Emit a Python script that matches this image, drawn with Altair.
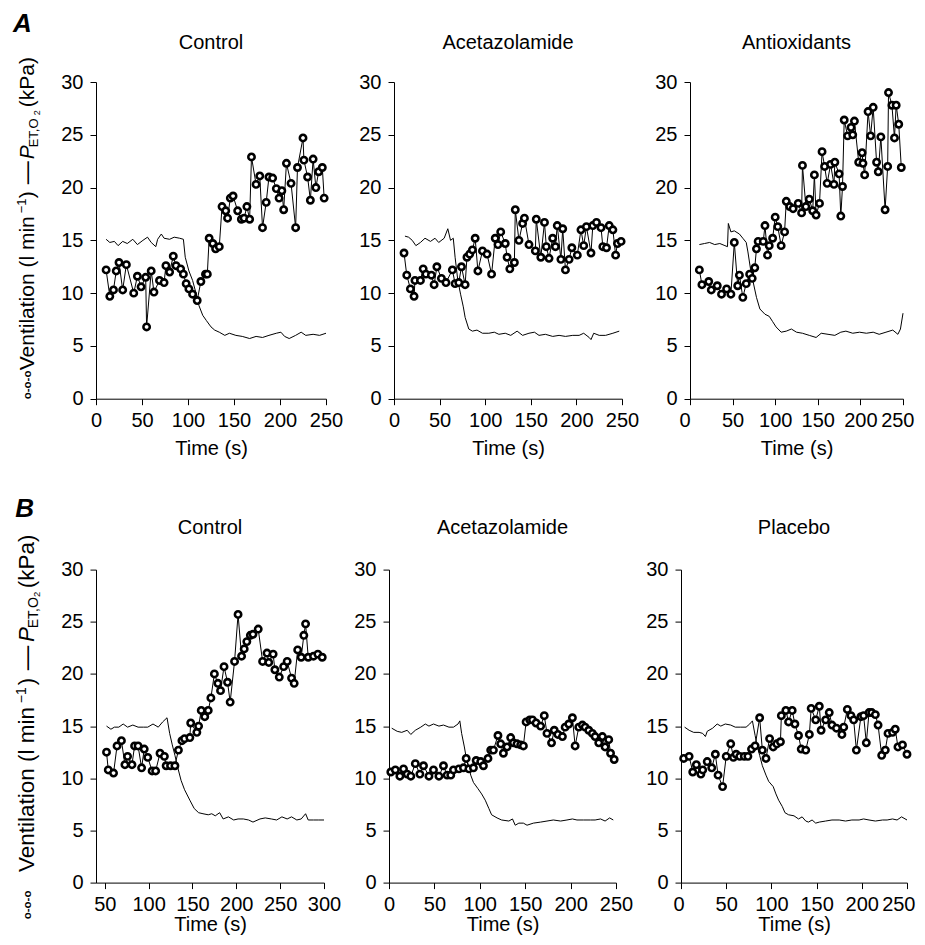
import altair as alt
import pandas as pd

FONT = "Liberation Sans"

# ---------------- Panel A: Control ----------------
a1_vent_t = [11, 15, 19, 22, 25, 29, 33, 41, 45, 49, 54, 55, 60, 63, 69, 74, 76, 80, 84, 87, 92, 95,
             98, 101, 105, 110, 114, 119, 121, 123, 127, 130, 134, 137, 141, 143, 146, 149, 154, 158,
             161, 164, 167, 169, 174, 178, 181, 185, 188, 192, 196, 199, 202, 204, 207, 212, 217, 219,
             225, 226, 230, 233, 236, 239, 242, 246, 248]
a1_vent_v = [12.2, 9.7, 10.3, 12.1, 12.9, 10.3, 12.7, 10.0, 11.6, 10.6, 11.5, 6.8, 12.1, 10.1, 11.2,
             11.0, 12.6, 12.0, 13.5, 12.6, 12.3, 11.8, 10.9, 10.4, 9.9, 9.3, 11.1, 11.8, 11.8, 15.2,
             14.7, 14.2, 14.4, 18.2, 17.8, 17.1, 19.0, 19.2, 17.8, 17.0, 17.1, 18.2, 17.0, 22.9, 20.3,
             21.1, 16.2, 18.6, 21.0, 20.9, 19.9, 19.0, 19.7, 17.9, 22.3, 20.4, 16.2, 21.9, 24.7, 22.6,
             21.0, 18.8, 22.7, 20.0, 21.5, 21.9, 19.0]
a1_pet_t = [11, 15, 20, 24, 29, 34, 40, 45, 51, 56, 60, 65, 67, 71, 74, 80, 85, 91, 95, 97, 101, 105,
            109, 112, 116, 120, 125, 129, 134, 140, 145, 152, 159, 167, 174, 181, 188, 196, 201, 205,
            210, 217, 223, 228, 236, 243, 250]
a1_pet_v = [15.1, 14.8, 14.9, 14.5, 14.9, 14.7, 15.1, 14.6, 15.0, 15.3, 14.8, 14.4, 15.1, 15.6, 15.2,
            15.1, 15.3, 15.2, 15.1, 13.4, 12.1, 11.2, 9.9, 8.8, 7.9, 7.4, 6.8, 6.5, 6.3, 6.0, 6.2, 6.0,
            5.9, 5.7, 5.9, 5.8, 6.0, 6.2, 6.3, 5.9, 5.7, 6.0, 6.3, 6.0, 6.1, 6.0, 6.2]

# ---------------- Panel A: Acetazolamide ----------------
a2_vent_t = [11, 14, 18, 22, 23, 29, 32, 35, 41, 44, 47, 52, 57, 64, 67, 71, 74, 78, 80, 83, 86, 89,
             92, 97, 102, 107, 111, 114, 117, 122, 124, 127, 132, 133, 137, 141, 143, 148, 155, 156,
             161, 165, 167, 170, 174, 177, 179, 183, 185, 188, 192, 195, 201, 205, 208, 211, 216, 218,
             222, 227, 229, 233, 236, 240, 243, 245, 249]
a2_vent_v = [13.8, 11.7, 10.4, 9.7, 11.2, 11.2, 12.3, 11.8, 11.7, 10.8, 12.5, 11.4, 11.0, 12.2, 10.9,
             11.0, 12.5, 10.8, 13.4, 13.7, 14.1, 15.2, 12.1, 14.0, 13.7, 11.8, 15.2, 14.6, 15.8, 14.7,
             13.4, 12.3, 12.9, 17.9, 15.0, 16.6, 17.1, 14.6, 14.0, 17.0, 13.4, 16.7, 14.4, 13.3, 15.2,
             14.4, 16.4, 13.2, 16.1, 12.2, 13.2, 14.3, 13.6, 16.0, 14.5, 16.3, 13.8, 16.4, 16.7, 16.2,
             14.4, 14.3, 16.4, 16.0, 13.6, 14.7, 14.9]
a2_pet_t = [12, 16, 20, 24, 29, 34, 40, 45, 49, 55, 59, 62, 65, 67, 70, 73, 76, 78, 82, 86, 91, 97,
            104, 110, 115, 122, 128, 135, 141, 148, 154, 159, 166, 174, 181, 188, 196, 203, 208, 214,
            216, 219, 225, 232, 240, 247]
a2_pet_v = [15.4, 15.3, 15.0, 14.5, 14.8, 15.2, 14.9, 15.2, 14.8, 15.2, 16.1, 15.0, 15.2, 13.4, 11.2,
            9.9, 8.7, 7.7, 6.6, 6.4, 6.5, 6.2, 6.2, 6.3, 6.1, 6.2, 6.0, 6.4, 6.0, 6.2, 6.3, 6.0, 6.1,
            5.9, 6.0, 5.9, 6.0, 6.0, 6.2, 5.8, 5.6, 6.2, 6.0, 6.0, 6.2, 6.4]

# ---------------- Panel A: Antioxidants ----------------
a3_vent_t = [11, 14, 22, 25, 32, 37, 43, 48, 52, 56, 58, 62, 66, 70, 73, 76, 78, 80, 86, 88, 91, 93,
             97, 100, 103, 107, 111, 113, 117, 121, 127, 131, 132, 136, 140, 144, 146, 148, 152, 155,
             158, 161, 165, 169, 170, 175, 177, 179, 181, 185, 189, 191, 193, 198, 202, 203, 205, 209,
             212, 215, 219, 221, 224, 229, 232, 233, 237, 240, 242, 245, 248]
a3_vent_v = [12.2, 10.8, 11.1, 10.3, 10.7, 9.9, 10.4, 9.9, 14.8, 10.7, 11.7, 9.6, 10.9, 11.8, 11.4,
             12.4, 14.2, 14.9, 14.9, 16.4, 13.6, 14.5, 15.2, 17.2, 16.3, 14.5, 15.8, 18.7, 18.2, 18.0,
             18.5, 17.6, 22.1, 18.2, 18.9, 17.8, 21.2, 17.4, 18.5, 23.4, 22.0, 20.4, 22.2, 20.3, 22.4,
             21.3, 17.3, 20.1, 26.4, 24.9, 25.7, 25.0, 26.3, 22.4, 23.3, 22.3, 21.2, 27.2, 24.9, 27.6,
             22.4, 21.5, 24.8, 17.9, 22.0, 29.0, 27.8, 24.7, 27.8, 26.0, 21.9]
a3_pet_t = [11, 17, 23, 29, 35, 41, 44, 45, 48, 52, 58, 62, 66, 68, 71, 74, 78, 82, 88, 93, 97, 101,
            107, 113, 119, 125, 132, 140, 148, 154, 162, 170, 177, 183, 191, 199, 207, 215, 222, 230,
            238, 244, 247, 250]
a3_pet_v = [14.6, 14.7, 14.8, 14.6, 14.7, 14.5, 14.4, 16.6, 15.8, 15.9, 15.6, 15.2, 14.8, 13.9, 12.3,
            11.1, 9.6, 8.5, 8.0, 7.8, 7.3, 6.8, 6.3, 6.4, 6.6, 6.3, 6.2, 6.0, 5.8, 6.2, 6.1, 6.0, 6.3,
            6.4, 6.2, 6.3, 6.2, 6.3, 6.1, 6.3, 6.5, 6.1, 6.6, 8.1]

# ---------------- Panel B: Control ----------------
b1_vent_t = [52, 54, 60, 64, 69, 73, 76, 81, 84, 88, 92, 95, 99, 104, 108, 113, 118, 120, 125, 130,
             134, 138, 141, 147, 148, 155, 157, 160, 164, 168, 171, 175, 179, 182, 186, 190, 193, 198,
             202, 206, 209, 212, 216, 219, 225, 230, 235, 237, 242, 244, 249, 254, 258, 263, 266, 270,
             274, 277, 279, 282, 288, 293, 298]
b1_vent_v = [12.5, 10.8, 10.5, 13.1, 13.6, 11.3, 12.1, 11.3, 13.1, 13.1, 11.0, 12.8, 12.0, 10.7, 10.7,
             12.4, 12.1, 11.2, 11.2, 11.2, 12.7, 13.6, 13.8, 13.9, 15.3, 14.4, 15.0, 16.5, 15.9, 16.5,
             17.7, 20.0, 19.1, 18.4, 20.7, 19.2, 17.3, 21.2, 25.7, 21.7, 22.4, 23.1, 23.7, 23.8, 24.3,
             21.2, 22.0, 21.1, 21.9, 20.4, 19.7, 20.7, 21.2, 19.6, 19.1, 22.3, 21.6, 23.7, 24.8, 21.6,
             21.7, 21.9, 21.6]
b1_pet_t = [52, 57, 61, 66, 71, 76, 82, 88, 94, 99, 105, 111, 116, 121, 124, 127, 130, 133, 137, 141,
            147, 152, 157, 162, 168, 172, 176, 181, 185, 191, 197, 202, 208, 214, 219, 227, 233, 240,
            246, 252, 258, 263, 269, 274, 279, 282, 288, 294, 300]
b1_pet_v = [15.0, 14.7, 14.9, 14.9, 15.2, 14.9, 15.1, 14.9, 14.9, 14.9, 15.2, 14.9, 15.4, 15.8, 14.3,
            13.2, 12.2, 11.1, 9.8, 8.9, 7.9, 7.1, 6.7, 6.6, 6.5, 6.6, 6.4, 6.7, 6.1, 6.3, 6.0, 6.1,
            6.1, 6.0, 5.8, 6.1, 6.2, 6.1, 6.0, 6.3, 6.1, 6.3, 6.0, 6.1, 6.6, 6.0, 6.0, 6.0, 6.0]

# ---------------- Panel B: Acetazolamide ----------------
b2_vent_t = [2, 7, 12, 16, 20, 24, 29, 34, 38, 44, 49, 55, 60, 64, 68, 71, 77, 82, 85, 88, 93, 96,
             101, 104, 109, 112, 115, 120, 123, 126, 130, 134, 137, 141, 145, 148, 151, 155, 158, 162,
             167, 171, 174, 179, 182, 186, 191, 194, 198, 202, 205, 209, 213, 216, 220, 224, 227, 231,
             235, 238, 242, 244, 248]
b2_vent_v = [10.6, 10.8, 10.2, 10.9, 10.4, 10.2, 11.4, 10.4, 11.2, 10.2, 10.8, 10.2, 11.2, 10.3, 10.3,
             10.8, 10.9, 11.0, 11.9, 10.9, 11.0, 11.7, 11.6, 11.2, 11.9, 12.7, 12.7, 14.1, 13.3, 12.4,
             13.0, 13.9, 13.4, 13.3, 13.2, 13.1, 15.4, 15.6, 15.6, 15.3, 15.0, 16.0, 14.3, 13.4, 14.6,
             14.2, 14.0, 14.9, 15.2, 15.8, 13.1, 14.9, 15.1, 14.9, 14.6, 14.3, 14.0, 13.4, 14.0, 13.0,
             13.7, 12.4, 11.8]
b2_pet_t = [3, 9, 14, 20, 24, 29, 35, 40, 44, 49, 55, 60, 66, 71, 76, 78, 80, 83, 85, 88, 90, 93, 98,
            102, 106, 110, 113, 119, 124, 132, 136, 139, 143, 148, 152, 159, 167, 174, 181, 189, 196,
            202, 207, 214, 222, 227, 233, 238, 243, 247]
b2_pet_v = [14.8, 14.5, 14.4, 14.6, 14.2, 14.6, 14.9, 15.2, 15.0, 15.2, 15.0, 15.1, 14.9, 14.9, 15.2,
            15.5, 14.3, 13.0, 12.0, 11.1, 10.3, 9.6, 9.0, 8.5, 7.9, 7.1, 6.5, 6.2, 6.0, 5.9, 6.1, 5.5,
            5.7, 5.7, 5.5, 5.7, 5.8, 5.9, 6.0, 5.9, 6.0, 6.1, 6.0, 6.0, 6.0, 6.0, 6.1, 5.9, 6.2, 6.0]

# ---------------- Panel B: Placebo ----------------
b3_vent_t = [3, 9, 13, 17, 22, 24, 29, 34, 38, 41, 46, 50, 55, 58, 61, 65, 70, 74, 78, 82, 87, 90, 94,
             98, 102, 106, 110, 111, 116, 119, 123, 126, 130, 133, 138, 142, 144, 149, 153, 155, 160,
             164, 167, 172, 178, 180, 184, 188, 191, 194, 199, 202, 205, 208, 211, 215, 218, 222, 226,
             229, 234, 237, 240, 245, 250]
b3_vent_v = [11.9, 12.1, 10.6, 11.3, 10.4, 10.8, 11.6, 11.0, 12.3, 10.3, 9.2, 12.1, 13.3, 12.0, 12.3,
             12.1, 12.1, 12.1, 12.8, 13.1, 15.8, 12.7, 11.9, 13.8, 13.0, 13.3, 13.5, 16.0, 16.5, 15.4,
             16.5, 15.2, 14.1, 12.8, 12.7, 14.2, 16.7, 15.6, 16.9, 14.6, 15.6, 16.3, 15.1, 14.8, 14.2,
             14.9, 16.6, 16.0, 15.6, 12.7, 15.9, 16.0, 13.4, 16.3, 16.3, 16.1, 15.1, 12.2, 12.7, 14.3,
             14.4, 14.7, 13.0, 13.2, 12.3]
b3_pet_t = [4, 9, 14, 20, 24, 27, 29, 35, 40, 44, 49, 55, 60, 66, 72, 76, 79, 82, 84, 87, 90, 94, 97,
            102, 105, 108, 112, 115, 119, 125, 130, 134, 138, 141, 145, 149, 153, 160, 167, 175, 182,
            189, 197, 202, 208, 215, 223, 228, 234, 239, 244, 250]
b3_pet_v = [14.9, 14.6, 14.4, 14.4, 14.3, 14.0, 14.5, 14.8, 15.2, 15.0, 15.2, 15.1, 14.9, 14.9, 14.9,
            15.2, 15.5, 14.1, 13.2, 12.2, 11.2, 10.3, 9.7, 9.2, 8.5, 7.9, 7.3, 6.7, 6.5, 6.4, 6.1, 6.3,
            5.9, 5.8, 6.0, 5.7, 5.8, 5.9, 6.0, 6.0, 5.9, 6.0, 6.0, 6.1, 6.0, 5.9, 6.0, 6.0, 6.1, 6.0,
            6.3, 6.0]

titles_a = ["Control", "Acetazolamide", "Antioxidants"]
titles_b = ["Control", "Acetazolamide", "Placebo"]
y_ticks = [0, 5, 10, 15, 20, 25, 30]
x_ticks_0 = [0, 50, 100, 150, 200, 250]
x_ticks_b1 = [50, 100, 150, 200, 250, 300]


def text_layer(s, x, y, size, angle=0, style="normal", weight="normal", align="left"):
    return alt.Chart(pd.DataFrame({"s": [s]})).mark_text(
        font=FONT, fontSize=size, angle=angle, fontStyle=style, fontWeight=weight,
        align=align, baseline="alphabetic", color="black"
    ).encode(text="s:N", x=alt.value(x), y=alt.value(y))


def panel(vt, vv, pt, pv, name, width, height, xdomain, xticks, lpad, tpad, title_y,
          flush_offset=None, extra=()):
    vent = pd.DataFrame({"t": vt, "v": vv})
    pet = pd.DataFrame({"t": pt, "v": pv})
    axis_kw = dict(values=xticks, title="Time (s)", titlePadding=tpad, labelPadding=lpad,
                   tickSize=6, labelOverlap=False, labelBound=False)
    if flush_offset is None:
        axis_kw["labelFlush"] = False
    else:
        axis_kw["labelFlush"] = True
        axis_kw["labelFlushOffset"] = flush_offset
    xenc = alt.X("t:Q", scale=alt.Scale(domain=xdomain, nice=False, zero=False),
                 axis=alt.Axis(**axis_kw))
    yenc = alt.Y("v:Q", scale=alt.Scale(domain=[0, 30], nice=False),
                 axis=alt.Axis(values=y_ticks, title=None, tickSize=6, labelPadding=7,
                               labelOverlap=False))
    pet_line = alt.Chart(pet).mark_line(color="black", strokeWidth=1).encode(x=xenc, y=yenc)
    vent_line = alt.Chart(vent).mark_line(color="black", strokeWidth=1).encode(x=xenc, y=yenc)
    vent_pts = alt.Chart(vent).mark_point(
        shape="circle", filled=True, fill="white", stroke="black", strokeWidth=2.6,
        size=40, opacity=1
    ).encode(x=xenc, y=yenc)
    ttl = text_layer(name, width / 2, title_y, 20, align="center")
    return alt.layer(pet_line, vent_line, vent_pts, ttl, *extra).properties(
        width=width, height=height)


def y_title(pos, big, small, tiny, xb):
    # pos: start positions (pixels from the plot top) of each piece, reading bottom-to-top
    pieces = [
        ("o-o-o", pos[0], 11.5, xb - 3, "normal", "bold"),
        ("Ventilation (l min", pos[1], big, xb, "normal", "normal"),
        ("\u22121", pos[2], small, xb - 8, "normal", "normal"),
        (")", pos[3], big, xb, "normal", "normal"),
        ("\u2014", pos[4], big + 2, xb, "normal", "normal"),
        ("P", pos[5], big, xb, "italic", "normal"),
        ("ET,O", pos[6], small, xb + 4, "normal", "normal"),
        ("2", pos[7], tiny, xb + 6, "normal", "normal"),
        ("(kPa)", pos[8], big, xb, "normal", "normal"),
    ]
    return [text_layer(s, x, y, f, angle=270, style=st, weight=w) for s, y, f, x, st, w in pieces]


extra_a = y_title([317.3, 288.3, 131.3, 116.3, 102.3, 77.3, 65.3, 33.3, 25.3], 21, 13, 9, -62) + [
    text_layer("A", -83, -49.7, 26, style="italic", weight="bold")]
extra_b = y_title([349.7, 302.4, 133.7, 115.7, 100.7, 72.4, 58.7, 27.4, 18.7], 22.5, 14, 9.5, -61.7) + [
    text_layer("B", -80.7, -52.3, 26, style="italic", weight="bold")]

HA, HB = 316.7, 313
p_a1 = panel(a1_vent_t, a1_vent_v, a1_pet_t, a1_pet_v, titles_a[0], 230, HA, [0, 250], x_ticks_0,
             6, 8, -32.7, extra=extra_a)
p_a2 = panel(a2_vent_t, a2_vent_v, a2_pet_t, a2_pet_v, titles_a[1], 228, HA, [0, 250], x_ticks_0,
             6, 8, -32.7)
p_a3 = panel(a3_vent_t, a3_vent_v, a3_pet_t, a3_pet_v, titles_a[2], 213, HA, [0, 250], x_ticks_0,
             6, 8, -32.7, flush_offset=11)
p_b1 = panel(b1_vent_t, b1_vent_v, b1_pet_t, b1_pet_v, titles_b[0], 228, HB, [40, 300], x_ticks_b1,
             6, 0, -36, extra=extra_b)
p_b2 = panel(b2_vent_t, b2_vent_v, b2_pet_t, b2_pet_v, titles_b[1], 227, HB, [0, 250], x_ticks_0,
             6, 0, -36)
p_b3 = panel(b3_vent_t, b3_vent_v, b3_pet_t, b3_pet_v, titles_b[2], 226, HB, [0, 250], x_ticks_0,
             6, 0, -36, flush_offset=8)

row_a = alt.hconcat(p_a1, p_a2, p_a3, spacing=68, bounds="flush")
row_b = alt.hconcat(p_b1, p_b2, p_b3, spacing=65, bounds="flush")

chart = alt.vconcat(row_a, row_b, spacing=487.6, bounds="flush").properties(
    padding={"left": 5, "top": 3, "right": 0, "bottom": 0}
).configure_view(
    stroke=None
).configure_axis(
    grid=False, domainColor="black", domainWidth=1, tickColor="black", tickWidth=1,
    labelFont=FONT, labelFontSize=20, labelColor="black",
    titleFont=FONT, titleFontSize=20, titleFontWeight="normal", titleColor="black"
)

chart.save("out.html", embed_options={"renderer": "svg", "actions": False})
